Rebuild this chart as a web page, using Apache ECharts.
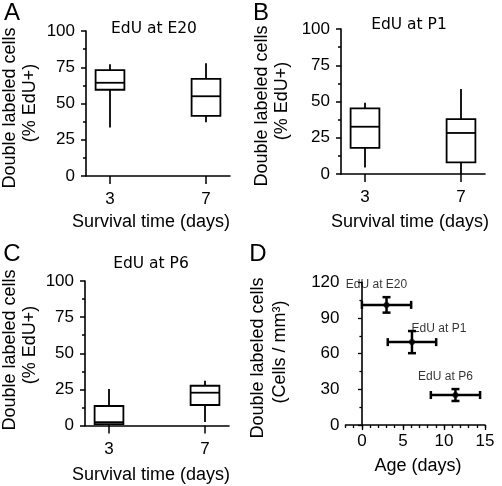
<!DOCTYPE html>
<html><head><meta charset="utf-8">
<script src="https://cdn.jsdelivr.net/npm/echarts@6/dist/echarts.min.js"></script>
<style>html,body{margin:0;padding:0;background:#fff}#c{width:502px;height:486px}</style>
</head><body><div id="c"></div>
<script>
// ---- data ----
const survivalDays = [3, 7];
const survivalTickLabels = [3, 7];
// box values: [min, q1, median, q3, max]
const boxE20 = [[33.5, 59.5, 64.3, 73.0, 77.0], [37.0, 41.5, 55.0, 67.0, 77.7]];
const boxP1  = [[4.5, 18.0, 32.6, 45.3, 49.2], [0.0, 8.0, 28.3, 37.9, 58.6]];
const boxP6  = [[0.0, 1.0, 2.3, 13.5, 25.2], [2.5, 14.2, 22.7, 27.5, 30.9]];
const panelTitles = ['EdU at E20', 'EdU at P1', 'EdU at P6'];
const groupNames = ['EdU at E20', 'EdU at P1', 'EdU at P6'];
const ageDays = [3.0, 6.1, 11.4];
const ageErr = [3.0, 2.95, 3.0];
const cellDensity = [101, 69.7, 25.2];
const cellErr = [6.5, 9.3, 5.0];
const ageTickLabels = [0, 5, 10, 15];

// ---- presentation ----
const FONT = 'Liberation Sans, Arial, sans-serif';
const TFONT = 'DejaVu Sans, sans-serif';
const labelOffsets = [[-10, -20], [27, -13], [-10, -18]];

function boxRender(params, api) {
  const x = api.value(0);
  const mn = api.value(1), q1 = api.value(2), md = api.value(3), q3 = api.value(4), mx = api.value(5);
  const w = api.size([1, 0])[0] * 1.2;
  const pMax = api.coord([x, mx]), pQ3 = api.coord([x, q3]), pMd = api.coord([x, md]),
        pQ1 = api.coord([x, q1]), pMin = api.coord([x, mn]);
  const cx = pMd[0];
  const st = {stroke: '#000', lineWidth: 1.8, fill: 'none'};
  return {type: 'group', children: [
    {type: 'line', shape: {x1: cx, y1: pMax[1], x2: cx, y2: pQ3[1]}, style: st},
    {type: 'line', shape: {x1: cx, y1: pQ1[1], x2: cx, y2: pMin[1]}, style: st},
    {type: 'rect', shape: {x: cx - w / 2, y: pQ3[1], width: w, height: pQ1[1] - pQ3[1]},
      style: {stroke: '#000', lineWidth: 1.8, fill: '#fff'}},
    {type: 'line', shape: {x1: cx - w / 2, y1: pMd[1], x2: cx + w / 2, y2: pMd[1]}, style: st}
  ]};
}

function errRender(params, api) {
  const x = api.value(0), y = api.value(1), ex = api.value(2), ey = api.value(3);
  const L = api.coord([x - ex, y]), R = api.coord([x + ex, y]);
  const T = api.coord([x, y + ey]), B = api.coord([x, y - ey]);
  const c = 4;
  const st = {stroke: '#000', lineWidth: 2.5, fill: 'none'};
  return {type: 'group', children: [
    {type: 'line', shape: {x1: L[0], y1: L[1], x2: R[0], y2: R[1]}, style: st},
    {type: 'line', shape: {x1: L[0], y1: L[1] - c, x2: L[0], y2: L[1] + c}, style: st},
    {type: 'line', shape: {x1: R[0], y1: R[1] - c, x2: R[0], y2: R[1] + c}, style: st},
    {type: 'line', shape: {x1: T[0], y1: T[1], x2: B[0], y2: B[1]}, style: st},
    {type: 'line', shape: {x1: T[0] - c, y1: T[1], x2: T[0] + c, y2: T[1]}, style: st},
    {type: 'line', shape: {x1: B[0] - c, y1: B[1], x2: B[0] + c, y2: B[1]}, style: st}
  ]};
}

const axisLineStyle = {show: true, lineStyle: {color: '#000', width: 1.6}};
function pctYAxis(gi) {
  return {type: 'value', gridIndex: gi, min: 0, max: 100, interval: 25,
    axisLine: axisLineStyle,
    axisTick: {show: true, length: 5, lineStyle: {color: '#000', width: 1.5}},
    minorTick: {show: true, splitNumber: 2, length: 3, lineStyle: {color: '#000', width: 1.5}},
    axisLabel: {fontSize: 17, color: '#000', fontFamily: FONT, margin: 11},
    splitLine: {show: false}};
}
function dayXAxis(gi) {
  return {type: 'value', gridIndex: gi, min: 2, max: 8, interval: 1,
    axisLine: axisLineStyle,
    axisTick: {show: true, length: 8, customValues: survivalTickLabels, lineStyle: {color: '#000', width: 1.5}},
    axisLabel: {fontSize: 17, color: '#000', fontFamily: FONT, margin: 15, customValues: survivalTickLabels},
    splitLine: {show: false}};
}
function boxSeries(gi, arr) {
  return {type: 'custom', xAxisIndex: gi, yAxisIndex: gi, renderItem: boxRender,
    encode: {x: 0, y: [1, 2, 3, 4, 5]},
    data: survivalDays.map((d, i) => [d].concat(arr[i])), silent: true};
}

const texts = [];
function txt(t, x, y, size, family, rot) {
  texts.push({type: 'text', x: x, y: y, rotation: rot || 0,
    style: {text: t, fontSize: size, fontFamily: family, fill: '#000', align: 'center', verticalAlign: 'middle'}});
}
// panel letters
txt('A', 12, 13, 24, FONT); txt('B', 261, 13, 24, FONT);
txt('C', 12, 254, 24, FONT); txt('D', 258, 254, 24, FONT);
// panel titles
txt(panelTitles[0], 154, 29, 15.5, TFONT);
txt(panelTitles[1], 409, 25, 15.5, TFONT);
txt(panelTitles[2], 151, 264, 15.5, TFONT);
// axis titles
const R90 = Math.PI / 2;
txt('Double labeled cells', 10, 108, 18, FONT, R90); txt('(% EdU+)', 30, 103, 18, FONT, R90);
txt('Double labeled cells', 262, 106, 18, FONT, R90); txt('(% EdU+)', 282, 101, 18, FONT, R90);
txt('Double labeled cells', 10, 350, 18, FONT, R90); txt('(% EdU+)', 30, 345, 18, FONT, R90);
txt('Double labeled cells', 258, 358, 18, FONT, R90); txt('(Cells / mm³)', 280, 352, 18, FONT, R90);
txt('Survival time (days)', 151, 222, 18, FONT);
txt('Survival time (days)', 410, 222, 18, FONT);
txt('Survival time (days)', 151, 475, 18, FONT);
txt('Age (days)', 418, 466, 18, FONT);

const option = {
  backgroundColor: '#fff',
  animation: false,
  grid: [
    {left: 86, top: 31, width: 144, height: 145},
    {left: 341, top: 29, width: 144, height: 145},
    {left: 85, top: 281, width: 144, height: 144.5},
    {left: 345.5, top: 282.3, width: 139.5, height: 142.7},
    {left: 345.5, top: 282.3, width: 139.5, height: 142.7}
  ],
  xAxis: [
    dayXAxis(0), dayXAxis(1), dayXAxis(2),
    {type: 'value', gridIndex: 3, min: -2, max: 15, interval: 1,
      axisLine: axisLineStyle,
      axisTick: {show: true, length: 3, lineStyle: {color: '#000', width: 1.3}},
      axisLabel: {fontSize: 17, color: '#000', fontFamily: FONT, margin: 8, customValues: ageTickLabels},
      splitLine: {show: false}},
    {type: 'value', gridIndex: 4, min: -2, max: 15, interval: 1,
      axisLine: {show: false},
      axisTick: {show: true, length: 5, customValues: ageTickLabels, lineStyle: {color: '#000', width: 1.3}},
      axisLabel: {show: false}, splitLine: {show: false}}
  ],
  yAxis: [
    pctYAxis(0), pctYAxis(1), pctYAxis(2),
    {type: 'value', gridIndex: 3, min: 0, max: 120, interval: 30,
      axisLine: axisLineStyle,
      axisTick: {show: true, length: 4, lineStyle: {color: '#000', width: 1.3}},
      minorTick: {show: true, splitNumber: 2, length: 2.5, lineStyle: {color: '#000', width: 1.3}},
      axisLabel: {fontSize: 17, color: '#000', fontFamily: FONT, margin: 6},
      splitLine: {show: false}},
    {type: 'value', gridIndex: 4, min: 0, max: 120, show: false}
  ],
  series: [
    boxSeries(0, boxE20), boxSeries(1, boxP1), boxSeries(2, boxP6),
    {type: 'custom', xAxisIndex: 3, yAxisIndex: 3, renderItem: errRender,
      encode: {x: 0, y: 1}, silent: true,
      data: ageDays.map((d, i) => [d, cellDensity[i], ageErr[i], cellErr[i]])},
    {type: 'scatter', xAxisIndex: 3, yAxisIndex: 3, symbol: 'circle', symbolSize: 6,
      itemStyle: {color: '#000'}, silent: true,
      label: {show: true, position: 'inside', formatter: '{b}', color: '#000', fontSize: 12, fontFamily: FONT},
      data: ageDays.map((d, i) => ({name: groupNames[i], value: [d, cellDensity[i]], label: {offset: labelOffsets[i]}}))}
  ],
  graphic: texts
};
const chart = echarts.init(document.getElementById('c'), null, {renderer: 'canvas'});
chart.setOption(option);
</script></body></html>
